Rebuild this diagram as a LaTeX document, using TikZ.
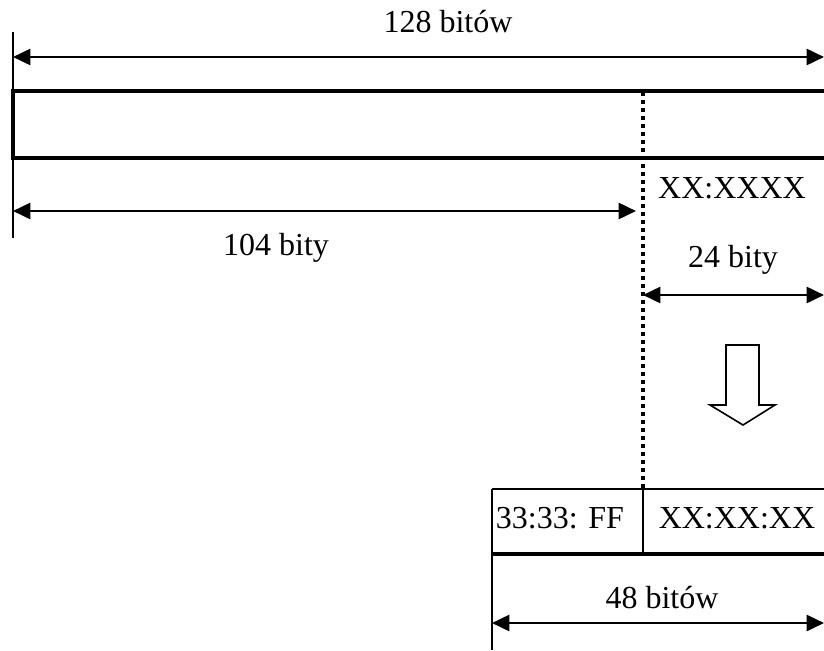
\documentclass[tikz,border=0pt]{standalone}
\usepackage{fontspec}
\setmainfont{Liberation Serif}
\usetikzlibrary{arrows.meta}
\begin{document}
\begin{tikzpicture}[x=0.75pt,y=-0.75pt,
  lbl/.style={anchor=base,inner sep=0pt,font=\fontsize{24}{28}\selectfont},
  dim/.style={line width=2pt,{Triangle[length=13pt,width=12pt]}-{Triangle[length=13pt,width=12pt]}},
  thickl/.style={line width=2.3pt},
  thinl/.style={line width=1.2pt},
  dots/.style={line width=2.5pt,dash pattern=on 3pt off 3pt}]
\useasboundingbox (0,0) rectangle (824,650);
\clip (0,0) rectangle (824,650);
% coordinates
\coordinate (L0) at (13,32);
\coordinate (L1) at (13,238);
\coordinate (D0) at (643,92);
\coordinate (D1) at (643,490);
% left reference line
\draw[thinl] (L0) -- (L1);
% top 128 bits arrow
\coordinate (a128l) at (13,57);
\coordinate (a128r) at (824,57);
\draw[dim] (a128l) -- (a128r);
\node[lbl] (t128) at (448,32) {128 bitów};
% top rectangle (right side beyond picture)
\draw[thickl] (830,91) -- (13,91) -- (13,158) -- (830,158);
% dotted divider
\draw[dots] (D0) -- (D1);
% 104 bits arrow
\coordinate (a104l) at (13,211);
\coordinate (a104r) at (636,211);
\draw[dim] (a104l) -- (a104r);
\node[lbl] (t104) at (276,255) {104 bity};
\node[lbl] (txx) at (732,198) {XX:XXXX};
\node[lbl] (t24) at (733,267) {24 bity};
% 24 bit arrow
\coordinate (a24l) at (643,295);
\coordinate (a24r) at (824,295);
\draw[dim] (a24l) -- (a24r);
% hollow down arrow
\draw[line width=1.2pt,fill=white] (726,345) -- (759,345) -- (759,405) -- (775,405) -- (743,425) -- (710,405) -- (726,405) -- cycle;
% bottom box
\draw[line width=1.5pt] (830,489) -- (492,489);
\draw[line width=1.5pt] (643,489) -- (643,556);
\draw[line width=2.3pt] (492,554) -- (830,554);
\draw[line width=1.5pt] (492,489) -- (492,650);
\node[lbl] (t33) at (560,528) {33:33: FF};
\node[lbl] (txxx) at (737,528) {XX:XX:XX};
\node[lbl] (t48) at (662,608) {48 bitów};
\coordinate (a48l) at (492,623);
\coordinate (a48r) at (824,623);
\draw[dim] (a48l) -- (a48r);
\end{tikzpicture}
\end{document}
